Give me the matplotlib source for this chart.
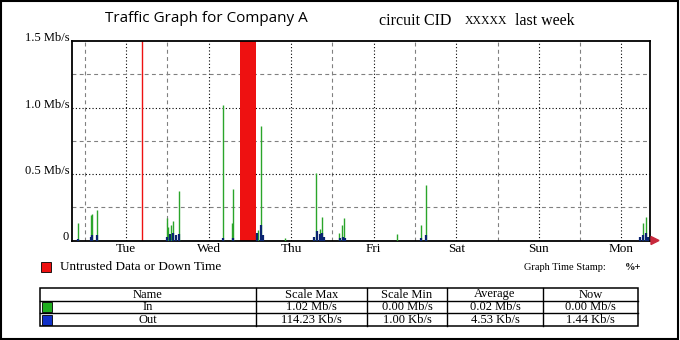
import matplotlib
matplotlib.use("Agg")
import matplotlib.pyplot as plt
from matplotlib.patches import Rectangle, Polygon
from matplotlib.lines import Line2D

# ---------------- data ----------------
# time in hours relative to Tuesday 00:00
days = ["Tue", "Wed", "Thu", "Fri", "Sat", "Sun", "Mon"]
in_hours = [-13.9, -10.2, -9.8, -8.3, 11.8, 12.2, 13.1, 13.7, 15.5, 28.2, 30.9, 31.2,
            38.4, 39.2, 46.2, 55.2, 56.4, 57.1, 61.9, 62.9, 63.4, 78.9, 85.6, 87.1,
            150.2, 151.0]
in_values = [0.13, 0.19, 0.20, 0.23, 0.17, 0.10, 0.12, 0.15, 0.37, 1.02, 0.13, 0.39,
             0.08, 0.86, 0.02, 0.51, 0.09, 0.18, 0.06, 0.12, 0.17, 0.05, 0.12, 0.42,
             0.13, 0.18]
out_hours = [-13.9, -10.2, -9.8, -8.3, 11.8, 12.8, 13.7, 14.5, 15.5, 28.2, 31.2,
             38.2, 39.2, 39.8, 54.6, 55.5, 56.4, 57.1, 57.6, 62.2, 63.0, 63.6,
             85.6, 87.1, 149.5, 150.2, 151.0, 151.6]
out_values = [0.01, 0.03, 0.04, 0.04, 0.03, 0.05, 0.06, 0.04, 0.05, 0.02, 0.02,
              0.06, 0.115, 0.04, 0.03, 0.07, 0.05, 0.06, 0.03, 0.02, 0.03, 0.02,
              0.02, 0.04, 0.03, 0.04, 0.06, 0.03]
downtime_line = 4.6
downtime_band = (33.1, 37.8)
y_ticks = [0, 0.5, 1.0, 1.5]
y_labels = ["0", "0.5 Mb/s", "1.0 Mb/s", "1.5 Mb/s"]

table_header = ["Name", "Scale Max", "Scale Min", "Average", "Now"]
row_in = ["In", "1.02 Mb/s", "0.00 Mb/s", "0.02 Mb/s", "0.00 Mb/s"]
row_out = ["Out", "114.23 Kb/s", "1.00 Kb/s", "4.53 Kb/s", "1.44 Kb/s"]

GREEN = "#2aa52a"
BLUE = "#0a2470"
RED = "#ee1111"
SERIF = ["Liberation Serif", "DejaVu Serif"]

W, H = 680, 340
fig = plt.figure(figsize=(W / 100, H / 100), dpi=100)

def fx(x):
    return x / W

def fy(y):
    return 1 - y / H

# outer border
fig.add_artist(Rectangle((fx(1), fy(338.5)), fx(677), 337.5 / H, fill=False,
                         edgecolor="black", linewidth=1.5, transform=fig.transFigure))

ax = fig.add_axes([fx(72), fy(240.5), fx(578), 199.5 / H])
x0, x1 = -15.7, 152.3
ax.set_xlim(x0, x1)
ax.set_ylim(0, 1.5)

# grid
for d in range(len(days)):
    ax.axvline(24 * d, color="black", linestyle=(0, (1, 2)), linewidth=0.8, zorder=1)
for n in range(-12, 150, 24):
    ax.axvline(n, color="#808080", linestyle=(0, (3.5, 3)), linewidth=0.8, zorder=1)
for yv in [0.5, 1.0]:
    ax.axhline(yv, color="black", linestyle=(0, (1, 2)), linewidth=0.8, zorder=1)
for yv in [0.25, 0.75, 1.25]:
    ax.axhline(yv, color="#808080", linestyle=(0, (3.5, 3)), linewidth=0.8, zorder=1)

# downtime
ax.axvline(downtime_line, color=RED, linewidth=1.0, zorder=2)
ax.axvspan(downtime_band[0], downtime_band[1], color=RED, zorder=2, linewidth=0)

# data
ax.vlines(in_hours, 0, in_values, color=GREEN, linewidth=1.0, zorder=3)
ax.vlines(out_hours, 0, out_values, color=BLUE, linewidth=1.6, zorder=4)

for s in ax.spines.values():
    s.set_linewidth(1.3)
    s.set_color("black")

ax.set_xticks([24 * d for d in range(len(days))])
ax.set_xticklabels(days, fontfamily=SERIF, fontsize=9.5)
ax.set_yticks(y_ticks)
ax.set_yticklabels(y_labels, fontfamily=SERIF, fontsize=9, va="baseline")
ax.tick_params(axis="both", length=0)
ax.tick_params(axis="x", pad=2)
ax.tick_params(axis="y", pad=2)

# arrow at end of x-axis
fig.add_artist(Polygon([[fx(651), fy(236.5)], [fx(659), fy(240.5)], [fx(651), fy(244.5)]],
                       closed=True, color="#c8283c", transform=fig.transFigure))

# titles
fig.text(fx(206), fy(19), "Traffic Graph for Company A", fontfamily=["Open Sans", "DejaVu Sans"],
         fontsize=11, ha="center", va="center")
fig.text(fx(379), fy(25), "circuit CID", fontfamily=SERIF, fontsize=11.5, ha="left", va="baseline")
fig.text(fx(465), fy(24), "XXXXX", fontfamily=SERIF, fontsize=8.5, ha="left", va="baseline")
fig.text(fx(515), fy(25), "last week", fontfamily=SERIF, fontsize=11.5, ha="left", va="baseline")

# legend
fig.add_artist(Rectangle((fx(41), fy(272)), fx(10), 10 / H, facecolor=RED, edgecolor="black",
                         linewidth=0.6, transform=fig.transFigure))
fig.text(fx(60), fy(266.5), "Untrusted Data or Down Time", fontfamily=SERIF, fontsize=9.5,
         ha="left", va="center")
fig.text(fx(524), fy(267), "Graph Time Stamp:", fontfamily=SERIF, fontsize=7.5,
         ha="left", va="center")
fig.text(fx(625), fy(267), "%+", fontfamily=SERIF, fontsize=7.5, fontweight="bold",
         ha="left", va="center")

# table
col_edges = [40, 256, 367, 447, 543, 638]
row_edges = [287.5, 300.5, 313.3, 326]
tf = fig.transFigure
fig.add_artist(Rectangle((fx(col_edges[0]), fy(row_edges[-1])), fx(col_edges[-1] - col_edges[0]),
                         (row_edges[-1] - row_edges[0]) / H, fill=False, edgecolor="black",
                         linewidth=1.1, transform=tf))
for r in row_edges[1:-1]:
    fig.add_artist(Line2D([fx(col_edges[0]), fx(col_edges[-1])], [fy(r), fy(r)],
                          color="black", linewidth=1.0, transform=tf))
for c in col_edges[1:-1]:
    fig.add_artist(Line2D([fx(c), fx(c)], [fy(row_edges[0]), fy(row_edges[-1])],
                          color="black", linewidth=1.0, transform=tf))
rows = [table_header, row_in, row_out]
for ri, row in enumerate(rows):
    yc = (row_edges[ri] + row_edges[ri + 1]) / 2
    for ci, txt in enumerate(row):
        xc = (col_edges[ci] + col_edges[ci + 1]) / 2
        fig.text(fx(xc), fy(yc + 0.5), txt, fontfamily=SERIF, fontsize=9,
                 ha="center", va="center")
for ri, col in [(1, "#1fae1f"), (2, "#1030c8")]:
    fig.add_artist(Rectangle((fx(42), fy(row_edges[ri + 1] - 1.5)), fx(9.5), 9.5 / H,
                             facecolor=col, edgecolor="black", linewidth=0.6, transform=tf))

fig.savefig("out.png", dpi=100)
